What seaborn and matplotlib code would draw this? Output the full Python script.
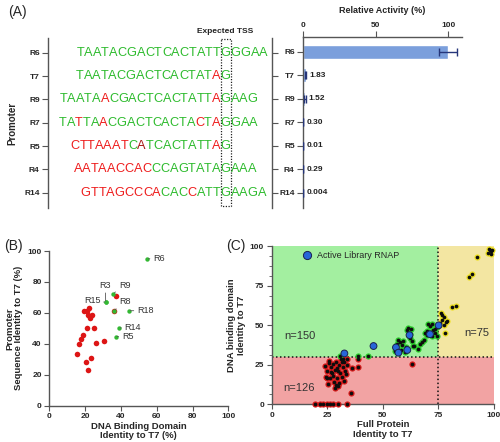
import matplotlib
matplotlib.use('Agg')
import matplotlib.pyplot as plt
import seaborn as sns
import numpy as np
import pandas as pd
from matplotlib.ticker import AutoMinorLocator

sns.set_theme(style='ticks')
plt.rcParams['font.family'] = ['Liberation Sans', 'DejaVu Sans']

# ---------------- Panel A data ----------------
promoters = ['R6', 'T7', 'R9', 'R7', 'R5', 'R4', 'R14']
sequences = ['TAATACGACTCACTATTGGGAA',
             'TAATACGACTCACTATAG',
             'TAATAACGACTCACTATTAGAAG',
             'TATTAACGACTCACTACTAGGAA',
             'CTTAAATCATCACTATTAG',
             'AATAACCACCCAGTATAGAAA',
             'GTTAGCCCACACCATTGAAGA']
# g = matches T7 (green), r = mismatch (red), d = dark red
color_masks = ['g' * 22,
               'g' * 16 + 'r' + 'g',
               'g' * 5 + 'r' + 'g' * 12 + 'r' + 'g' * 4,
               'gg' + 'r' + 'gg' + 'r' + 'g' * 10 + 'r' + 'g' + 'r' + 'g' * 4,
               'r' * 7 + 'g' + 'd' + 'g' * 8 + 'r' + 'g',
               'r' * 9 + 'g' * 12,
               'r' * 9 + 'ggg' + 'r' + 'ggg' + 'g' * 5]
tss_index = [17, 17, 19, 19, 18, 17, 16]
activity = [100, 1.83, 1.52, 0.30, 0.01, 0.29, 0.004]
activity_err = [6, 0.5, 0.5, 0, 0, 0, 0]
activity_labels = ['', '1.83', '1.52', '0.30', '0.01', '0.29', '0.004']

# ---------------- Panel B data ----------------
b_green_names = ['R6', 'R3', 'R15', 'R9', 'R8', 'R18', 'R14', 'R5']
b_green_x = [54.6, 31.5, 31.5, 35.8, 36.1, 44.5, 38.9, 37.1]
b_green_y = [94.9, 66.8, 66.8, 72.5, 61.4, 61.4, 50.3, 44.7]
b_red_x = [37.3, 36.1, 19.4, 20.9, 22.4, 21.8, 23.7, 22.7, 20.9, 24.8, 18.6, 17.9,
           16.8, 25.9, 30.6, 15.6, 23.3, 20.3, 21.6]
b_red_y = [70.9, 61.4, 61.4, 61.4, 62.9, 58.7, 58.7, 56.5, 50.3, 50.3, 45.8, 42.8,
           40.0, 40.4, 41.5, 33.6, 30.8, 28.0, 22.9]

# ---------------- Panel C data ----------------
c_red_x = [19.5, 21.7, 23.2, 24.7, 26.2, 27.4, 30.0, 33.7,
           25.6, 26.7, 24.7, 24.4, 25.0, 27.0, 28.5, 29.5, 30.4, 31.5, 32.7, 33.7,
           31.9, 30.7, 29.2, 28.0, 28.9, 30.4, 31.5, 27.7, 26.2, 36.0, 39.0, 39.0,
           35.7, 63.0, 31.0, 32.0, 26.0, 33.0, 29.0, 27.5, 30.0, 32.5, 25.5, 28.5,
           30.0, 26.5, 24.0, 33.5, 34.0]
c_red_y = [0, 0, 0, 0, 0, 0, 0, 0,
           26.1, 23.9, 21.2, 17.6, 16.5, 19.7, 21.8, 22.9, 25.0, 26.5, 27.1, 25.0,
           23.5, 19.7, 16.5, 14.4, 12.3, 13.3, 17.6, 18.0, 16.5, 22.9, 29.0, 23.9,
           7.0, 25.6, 28.5, 29.0, 27.5, 21.0, 27.0, 25.5, 21.0, 15.0, 13.0, 10.5,
           11.5, 20.5, 24.5, 19.5, 28.5]
c_green_x = [30.7, 39.0, 43.5, 57.0, 57.7, 58.5, 59.2, 60.7, 61.5, 62.2, 63.0, 63.7,
             65.9, 67.5, 68.5, 69.0, 69.8, 70.5, 72.0, 72.4, 73.5, 73.5, 74.2, 72.0,
             60.0, 58.0, 56.5, 64.0, 62.5, 71.0, 74.5, 66.5, 70.0, 60.5, 55.5, 62.0]
c_green_y = [30.6, 30.6, 30.8, 40.9, 39.2, 37.7, 39.8, 47.2, 48.3, 41.9, 39.8, 37.1,
             35.2, 39.2, 40.9, 45.1, 46.2, 51.1, 51.1, 47.2, 47.7, 45.1, 43.4, 43.0,
             33.2, 34.5, 38.5, 36.9, 48.0, 49.5, 49.0, 38.0, 44.0, 36.5, 34.0, 44.5]
c_yellow_x = [76.0, 77.5, 78.2, 76.7, 75.7, 78.0, 81.0, 82.8, 88.9, 90.0, 92.2, 97.5,
              98.2, 98.8, 99.0, 97.8, 98.5, 77.5, 76.5, 79.0]
c_yellow_y = [58.0, 55.5, 52.4, 53.5, 51.5, 45.0, 61.8, 62.3, 80.8, 82.3, 93.5, 96.0,
              97.5, 95.5, 97.8, 98.5, 96.8, 50.0, 56.5, 52.5]
c_blue_x = [32.7, 45.8, 55.9, 57.0, 61.0, 62.0, 71.2, 75.1]
c_blue_y = [32.2, 36.9, 36.0, 32.7, 34.4, 43.8, 44.4, 50.0]
c_counts = ['n=150', 'n=126', 'n=75']

# ---------------- figure ----------------
W, H = 500, 442
fig = plt.figure(figsize=(5, 4.42), dpi=100)


def ax_px(l, t, r, b):
    return fig.add_axes([l / W, 1 - b / H, (r - l) / W, (b - t) / H])


GREEN = '#2dbb2d'
RED = '#ee1c1c'
DRED = '#a81616'
SPINE = '#555555'
cmap = {'g': GREEN, 'r': RED, 'd': DRED}

# ---- sequence panel ----
axs = ax_px(48, 38, 272, 208)
axs.set_xlim(0, 224)
axs.set_ylim(6.65, -0.63)
axs.set_facecolor('none')
for s in ['top', 'bottom']:
    axs.spines[s].set_visible(False)
for s in ['left', 'right']:
    axs.spines[s].set_color(SPINE)
    axs.spines[s].set_linewidth(1)
axs.set_xticks([])
axs.set_yticks(range(len(promoters)))
axs.set_yticklabels(promoters, fontsize=6, fontweight='bold')
axs.tick_params(axis='y', right=True, labelright=False, length=4, width=0.8,
                color=SPINE, pad=2)
axs.set_ylabel('Promoter', fontsize=7, fontweight='bold', labelpad=5)

tss_x = 177.5
fig.canvas.draw()
for row, (seq, mask, ti) in enumerate(zip(sequences, color_masks, tss_index)):
    center = axs.text(tss_x, row, seq[ti], color=cmap[mask[ti]], fontsize=9.2,
                      ha='center', va='center')
    prev = center
    for k in range(ti - 1, -1, -1):
        prev = axs.annotate(seq[k], xy=(0, 0), xycoords=prev, ha='right', va='bottom',
                            color=cmap[mask[k]], fontsize=9.2)
    prev = center
    for k in range(ti + 1, len(seq)):
        prev = axs.annotate(seq[k], xy=(1, 0), xycoords=prev, ha='left', va='bottom',
                            color=cmap[mask[k]], fontsize=9.2, annotation_clip=False)
axs.add_patch(plt.Rectangle((tss_x - 5, -0.58), 10, 7.15, fill=False, ls=(0, (1, 1.2)),
                            lw=0.9, ec='#222222', clip_on=False))
axs.text(tss_x, -0.75, 'Expected TSS', fontsize=6, fontweight='bold', ha='center',
         va='bottom', color='#222222')

# ---- bar panel ----
axb = ax_px(303, 37, 462, 208)
df_a = pd.DataFrame({'promoter': promoters, 'activity': activity})
sns.barplot(data=df_a, x='activity', y='promoter', color='#7b9fdc', width=0.58,
            ax=axb, saturation=1, errorbar=None, zorder=2)
axb.errorbar(activity, range(len(promoters)), xerr=activity_err, fmt='none',
             ecolor='#26367a', elinewidth=1, capsize=3, zorder=3)
for i, lab in enumerate(activity_labels):
    if lab:
        axb.text(activity[i] + 2.5, i, lab, fontsize=6, fontweight='bold',
                 ha='left', va='center', color='#222222')
axb.set_xlim(0, 109.6)
axb.set_ylim(6.65, -0.63)
axb.set_facecolor('none')
axb.xaxis.tick_top()
axb.xaxis.set_label_position('top')
axb.set_xticks([0, 50, 100])
axb.set_xlabel('Relative Activity (%)', fontsize=6.5, fontweight='bold', labelpad=6)
axb.set_ylabel('')
for s in ['bottom', 'right']:
    axb.spines[s].set_visible(False)
for s in ['top', 'left']:
    axb.spines[s].set_color(SPINE)
    axb.spines[s].set_linewidth(1)
axb.tick_params(axis='both', length=4, width=0.8, color=SPINE, labelsize=6, pad=2)
for t in axb.get_xticklabels() + axb.get_yticklabels():
    t.set_fontweight('bold')

# ---- panel B ----
axB = ax_px(49.3, 251, 228.3, 405.7)
df_red = pd.DataFrame({'x': b_red_x, 'y': b_red_y})
df_grn = pd.DataFrame({'x': b_green_x, 'y': b_green_y, 'name': b_green_names})
sns.scatterplot(data=df_red, x='x', y='y', color='#dd1515', s=16, linewidth=0, ax=axB)
sns.scatterplot(data=df_grn, x='x', y='y', color='#33b833', s=10, linewidth=0, ax=axB)
lab_pos = {'R6': (58, 95.2, 'left', 'center'), 'R3': (31.3, 75, 'center', 'bottom'),
           'R15': (28.5, 68.2, 'right', 'center'), 'R9': (38.8, 75, 'left', 'bottom'),
           'R8': (39.2, 64.5, 'left', 'bottom'), 'R18': (49, 61.4, 'left', 'center'),
           'R14': (42, 50.3, 'left', 'center'), 'R5': (40.5, 44.7, 'left', 'center')}
for nm, x, y in zip(b_green_names, b_green_x, b_green_y):
    tx, ty, ha, va = lab_pos[nm]
    axB.annotate(nm, xy=(x, y), xytext=(tx, ty), fontsize=6.5, color='#333333',
                 ha=ha, va=va,
                 arrowprops=dict(arrowstyle='-', color='#555555', lw=0.6,
                                 shrinkA=0, shrinkB=1))
axB.set_xlim(0, 100)
axB.set_ylim(0, 100)
axB.set_xticks(range(0, 101, 20))
axB.set_yticks(range(0, 101, 20))
axB.set_xlabel('DNA Binding Domain\nIdentity to T7 (%)', fontsize=6.8, fontweight='bold',
               labelpad=1, linespacing=1.05)
axB.set_ylabel('Promoter\nSequence Identity to T7 (%)', fontsize=6.8, fontweight='bold',
               labelpad=3, linespacing=1.05)
sns.despine(ax=axB)
for s in ['left', 'bottom']:
    axB.spines[s].set_color(SPINE)
    axB.spines[s].set_linewidth(1)
axB.tick_params(axis='both', length=3.5, width=0.8, color=SPINE, labelsize=6, pad=2)
for t in axB.get_xticklabels() + axB.get_yticklabels():
    t.set_fontweight('bold')

# ---- panel C ----
axC = ax_px(271.7, 246.4, 494, 404.3)
axC.set_xlim(0, 100)
axC.set_ylim(0, 100)
axC.add_patch(plt.Rectangle((0, 0), 100, 30, color='#f2a3a3', lw=0, zorder=0))
axC.add_patch(plt.Rectangle((0, 30), 75, 70, color='#a3efa0', lw=0, zorder=0))
axC.add_patch(plt.Rectangle((75, 30), 25, 70, color='#f3e6a2', lw=0, zorder=0))
axC.axhline(30, color='#111111', ls=(0, (1, 1.6)), lw=1.1, zorder=1)
axC.axvline(75, color='#111111', ls=(0, (1, 1.6)), lw=1.1, zorder=1)

groups = [(c_red_x, c_red_y, '#d81a1a'), (c_green_x, c_green_y, '#2ccc2c'),
          (c_yellow_x, c_yellow_y, '#eee020')]
for gx, gy, col in groups:
    d = pd.DataFrame({'x': gx, 'y': gy})
    sns.scatterplot(data=d, x='x', y='y', color=col, s=20, linewidth=0, ax=axC,
                    zorder=3, clip_on=False)
    sns.scatterplot(data=d, x='x', y='y', color='#0d0d0d', s=7, linewidth=0, ax=axC,
                    zorder=4, clip_on=False)
df_blue = pd.DataFrame({'x': c_blue_x, 'y': c_blue_y, 'kind': 'Active Library RNAP'})
sns.scatterplot(data=df_blue, x='x', y='y', hue='kind', palette=['#2766d8'], s=24,
                edgecolor='#1a2050', linewidth=0.7, ax=axC, zorder=5)
leg = axC.legend(loc='upper left', frameon=False, fontsize=6.5, handletextpad=0.1,
                 borderaxespad=0.3, bbox_to_anchor=(0.09, 1.01), markerscale=1.2)
axC.text(12.5, 43.5, c_counts[0], fontsize=8, color='#333333', ha='center', va='center')
axC.text(12.5, 10.5, c_counts[1], fontsize=8, color='#333333', ha='center', va='center')
axC.text(92.2, 45, c_counts[2], fontsize=8, color='#333333', ha='center', va='center')
axC.set_xticks([0, 25, 50, 75, 100])
axC.set_yticks([0, 25, 50, 75, 100])
axC.yaxis.set_minor_locator(AutoMinorLocator(4))
axC.set_xlabel('Full Protein\nIdentity to T7', fontsize=6.8, fontweight='bold', labelpad=1,
               linespacing=1.05)
axC.set_ylabel('DNA binding domain\nIdentity to T7', fontsize=6.8, fontweight='bold',
               labelpad=3, linespacing=1.05)
sns.despine(ax=axC)
for s in ['left', 'bottom']:
    axC.spines[s].set_color(SPINE)
    axC.spines[s].set_linewidth(1)
axC.tick_params(axis='both', which='major', length=3.5, width=0.8, color=SPINE,
                labelsize=6, pad=2)
axC.tick_params(axis='y', which='minor', length=2, width=0.6, color=SPINE)
for t in axC.get_xticklabels() + axC.get_yticklabels():
    t.set_fontweight('bold')

# panel letters
fig.text(8 / W, 1 - 12 / H, '(A)', fontsize=10, va='center', ha='left')
fig.text(4 / W, 1 - 246 / H, '(B)', fontsize=10, va='center', ha='left')
fig.text(226 / W, 1 - 246 / H, '(C)', fontsize=10, va='center', ha='left')

fig.savefig('out.png', dpi=100)
